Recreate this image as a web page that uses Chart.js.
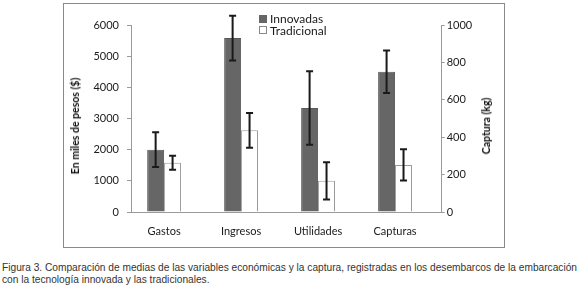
<!DOCTYPE html>
<html>
<head>
<meta charset="utf-8">
<script src="https://cdn.jsdelivr.net/npm/chart.js@4.4.1/dist/chart.umd.min.js"></script>
<style>
    body { margin: 0; background: #fff; width: 580px; height: 291px; position: relative; overflow: hidden; font-family: Lato, sans-serif; }
    #frame { position: absolute; left: 63px; top: 3px; width: 440px; height: 243px; border: 1px solid #8a8a8a; }
    #frame canvas { display: block; }
    #legend { position: absolute; left: 259px; top: 13px; font-size: 12px; color: #1a1a1a; }
    .item { display: flex; align-items: center; height: 11.5px; }
    .sw { width: 6px; height: 6px; margin-right: 3px; border: 1px solid #666; }
    .ytitle { position: absolute; transform: translate(-50%, -50%) rotate(-90deg); white-space: nowrap;
              font: bold 10.5px Lato, sans-serif; color: #111; }
    #caption { position: absolute; left: 2px; top: 262px; font-size: 11.5px; line-height: 12px; color: #333;
               font-family: "Liberation Sans Narrow", "Liberation Sans", sans-serif; white-space: nowrap; }
</style>
</head>
<body>
<div id="frame"><canvas id="chart" width="440" height="243"></canvas></div>
<div class="ytitle" style="left:75px;top:126px">En miles de pesos ($)</div>
<div class="ytitle" style="left:486px;top:126px">Captura (kg)</div>
<div id="legend">
    <div class="item"><span class="sw" style="background:#666"></span>Innovadas</div>
    <div class="item"><span class="sw" style="background:#fff;border-color:#888"></span>Tradicional</div>
</div>
<div id="caption"><span id="line1">Figura 3. Comparación de medias de las variables económicas y la captura, registradas en los desembarcos de la embarcación</span><br>con la tecnología innovada y las tradicionales.</div>

<script>
const categories = ["Gastos", "Ingresos", "Utilidades", "Capturas"];

// miles de pesos (eje izquierdo)
const innovadasPesos = [2000, 5580, 3340, null];
const innovadasPesosErr = [556, 720, 1180, null];
const tradicionalPesos = [1580, 2620, 1000, null];
const tradicionalPesosErr = [225, 560, 600, null];

// captura en kg (eje derecho)
const innovadasKg = [null, null, null, 750];
const innovadasKgErr = [null, null, null, 113];
const tradicionalKg = [null, null, null, 252];
const tradicionalKgErr = [null, null, null, 83];

const leftTicks = [0, 1000, 2000, 3000, 4000, 5000, 6000];
const rightTicks = [0, 200, 400, 600, 800, 1000];

const toPoints = arr => arr.map((v, i) => ({ x: i, y: v }));

const tickFont = { family: "Lato", size: 11 };

// draws the vertical error bars on top of each bar
const errorBars = {
    id: "errorBars",
    afterDatasetsDraw(chart) {
        const ctx = chart.ctx;
        ctx.save();
        ctx.strokeStyle = "#1a1a1a";
        ctx.lineWidth = 2;
        chart.data.datasets.forEach((ds, di) => {
            const meta = chart.getDatasetMeta(di);
            const scale = chart.scales[ds.yAxisID];
            meta.data.forEach((bar, i) => {
                const v = ds.data[i].y;
                const e = ds.errors[i];
                if (v == null || e == null) return;
                const top = scale.getPixelForValue(v + e);
                const bot = scale.getPixelForValue(v - e);
                const x = bar.x;
                ctx.beginPath();
                ctx.moveTo(x, top); ctx.lineTo(x, bot);
                ctx.moveTo(x - 3.5, top); ctx.lineTo(x + 3.5, top);
                ctx.moveTo(x - 3.5, bot); ctx.lineTo(x + 3.5, bot);
                ctx.stroke();
            });
        });
        ctx.restore();
    }
};

const innStyle = { backgroundColor: "#666666", borderColor: "#5a5a5a", borderWidth: 1 };
const traStyle = { backgroundColor: "#ffffff", borderColor: "#9a9a9a", borderWidth: 1 };

new Chart(document.getElementById("chart"), {
    type: "bar",
    data: {
        datasets: [
            { label: "Innovadas", data: toPoints(innovadasPesos), errors: innovadasPesosErr, yAxisID: "y", ...innStyle },
            { label: "Tradicional", data: toPoints(tradicionalPesos), errors: tradicionalPesosErr, yAxisID: "y", ...traStyle },
            { label: "Innovadas", data: toPoints(innovadasKg), errors: innovadasKgErr, yAxisID: "y1", ...innStyle },
            { label: "Tradicional", data: toPoints(tradicionalKg), errors: tradicionalKgErr, yAxisID: "y1", ...traStyle }
        ]
    },
    options: {
        responsive: false,
        animation: false,
        skipNull: true,
        categoryPercentage: 0.44,
        barPercentage: 1,
        layout: { padding: { top: 21, right: 7, bottom: 0, left: 0 } },
        plugins: { legend: { display: false }, tooltip: { enabled: false } },
        scales: {
            x: {
                type: "linear",
                min: -0.43,
                max: 3.606,
                offset: false,
                grid: { display: false, drawTicks: false, offset: false },
                border: { color: "#9a9a9a" },
                afterBuildTicks: axis => { axis.ticks = categories.map((c, i) => ({ value: i })); },
                afterFit: s => { s.height = 35; },
                ticks: {
                    autoSkip: false, maxRotation: 0, padding: 13,
                    font: tickFont, color: "#1a1a1a",
                    callback: v => categories[v]
                }
            },
            y: {
                position: "left",
                min: 0, max: 6000,
                afterBuildTicks: axis => { axis.ticks = leftTicks.map(v => ({ value: v })); },
                afterFit: s => { s.width = 67; },
                grid: { drawOnChartArea: false, tickLength: 4, color: "#9a9a9a" },
                border: { color: "#9a9a9a" },
                ticks: { padding: 8, font: tickFont, color: "#1a1a1a", callback: v => String(v) }
            },
            y1: {
                position: "right",
                min: 0, max: 1000,
                afterBuildTicks: axis => { axis.ticks = rightTicks.map(v => ({ value: v })); },
                afterFit: s => { s.width = 55.3; },
                grid: { drawOnChartArea: false, tickLength: 3, color: "#9a9a9a" },
                border: { color: "#9a9a9a" },
                ticks: { padding: 2, font: tickFont, color: "#1a1a1a", callback: v => String(v) }
            }
        }
    },
    plugins: [errorBars]
});

// fit the first caption line to the width it has in the figure
const cap = document.getElementById("caption");
const line1 = document.getElementById("line1");
const w = line1.getBoundingClientRect().width;
cap.style.fontSize = (11.5 * 576 / w).toFixed(2) + "px";
</script>
</body>
</html>
